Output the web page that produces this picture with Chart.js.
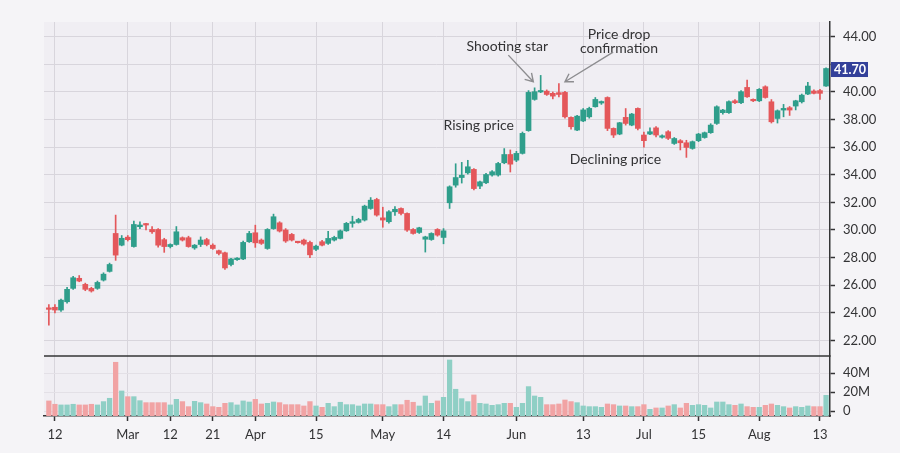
<!DOCTYPE html>
<html>
<head>
<meta charset="utf-8">
<script src="https://cdn.jsdelivr.net/npm/chart.js@4.4.1/dist/chart.umd.min.js"></script>
<style>
  html, body { margin: 0; padding: 0; background: #f5f4f7; }
  #wrap { width: 900px; height: 453px; }
</style>
</head>
<body>
<div id="wrap"><canvas id="chart" width="900" height="453"></canvas></div>
<script>
// daily candles, one per trading day (index 0 .. 128)
const opens = [
	24.35, 24.4, 24.2, 24.8, 25.77, 26.5, 26.06, 25.77, 25.77, 26.37,
	27.0, 29.75, 28.9, 29.48, 28.8, 30.24, 30.43, 30.04, 30.04, 29.3,
	28.8, 28.95, 29.44, 29.44, 28.7, 28.95, 29.3, 28.9, 28.5, 28.35,
	27.5, 27.85, 27.9, 29.15, 29.8, 29.27, 28.66, 30.1, 30.52, 30.0,
	29.68, 29.12, 29.27, 29.1, 28.6, 29.15, 29.03, 29.27, 29.39, 29.94,
	30.48, 30.55, 30.72, 31.56, 32.21, 30.88, 30.6, 31.32, 31.56, 31.2,
	30.04, 29.82, 29.33, 29.31, 30.04, 29.46, 31.97, 33.25, 33.8, 34.14,
	34.39, 33.18, 33.42, 33.98, 33.98, 34.87, 35.47, 35.06, 35.55, 37.2,
	39.46, 40.0, 40.06, 39.9, 39.95, 39.97, 38.16, 37.24, 37.9, 38.2,
	38.93, 39.2, 39.6, 37.36, 36.95, 38.16, 37.6, 38.81, 36.88, 36.95,
	37.4, 36.72, 37.12, 36.27, 36.47, 36.32, 35.91, 36.47, 36.7, 37.05,
	37.72, 38.5, 38.5, 39.36, 39.22, 40.33, 39.46, 39.36, 40.38, 39.29,
	38.08, 38.69, 38.86, 38.98, 39.29, 39.85, 40.07, 40.1, 40.43
];
const highs = [
	24.6, 24.6, 25.0, 25.85, 26.65, 26.7, 26.15, 25.85, 26.3, 26.9,
	27.6, 31.08, 29.6, 29.6, 30.65, 30.6, 30.48, 30.25, 30.1, 29.4,
	29.0, 30.25, 29.5, 29.55, 28.95, 29.5, 29.4, 29.0, 28.55, 28.4,
	27.95, 28.0, 29.2, 29.9, 30.35, 29.35, 30.1, 31.15, 30.6, 30.1,
	29.75, 29.18, 29.35, 29.2, 28.9, 29.25, 29.9, 29.55, 30.0, 30.55,
	31.0, 30.85, 31.8, 32.35, 32.3, 31.65, 31.4, 31.7, 31.6, 31.25,
	30.1, 30.2, 29.55, 29.8, 30.1, 30.1, 33.2, 34.8, 34.9, 35.05,
	34.45, 33.55, 34.1, 34.3, 34.9, 35.9, 35.8, 35.7, 37.1, 40.1,
	40.3, 41.2, 40.15, 40.0, 40.6, 40.05, 38.2, 38.3, 38.8, 38.9,
	39.6, 39.35, 39.65, 37.4, 37.8, 38.8, 38.45, 38.85, 37.1, 37.4,
	37.5, 36.9, 37.2, 36.7, 36.55, 36.5, 36.45, 37.0, 37.1, 37.7,
	39.0, 38.75, 39.35, 39.45, 40.1, 40.86, 39.5, 40.25, 40.45, 39.45,
	38.7, 39.1, 38.95, 39.4, 39.85, 40.7, 40.15, 40.2, 41.75
];
const lows = [
	23.1, 24.0, 24.1, 24.7, 25.7, 26.25, 25.6, 25.5, 25.7, 26.3,
	26.95, 27.8, 28.85, 29.2, 28.75, 30.1, 30.0, 29.75, 28.75, 28.38,
	28.7, 28.9, 29.2, 28.75, 28.6, 28.8, 28.85, 28.6, 28.2, 27.15,
	27.4, 27.8, 27.85, 29.1, 28.74, 28.95, 28.6, 30.05, 29.85, 29.1,
	29.2, 29.05, 28.9, 28.0, 28.5, 28.85, 28.95, 29.2, 29.35, 29.9,
	30.2, 30.5, 30.65, 31.5, 31.0, 30.2, 30.5, 31.05, 31.1, 29.9,
	29.7, 29.75, 28.4, 29.25, 29.55, 29.0, 31.56, 33.1, 33.4, 34.05,
	32.9, 33.0, 33.35, 33.9, 33.9, 34.8, 34.2, 34.95, 35.5, 37.15,
	39.4, 39.95, 39.75, 39.5, 39.65, 38.1, 37.3, 37.2, 37.85, 38.1,
	38.9, 39.1, 37.2, 36.7, 36.9, 37.6, 37.55, 37.25, 36.0, 36.9,
	36.75, 36.65, 36.55, 36.2, 35.8, 35.26, 35.85, 36.4, 36.65, 37.0,
	37.65, 38.4, 38.45, 39.15, 39.15, 39.6, 39.3, 39.3, 39.55, 37.75,
	37.75, 38.2, 38.3, 38.7, 39.2, 39.8, 39.85, 39.46, 40.4
];
const closes = [
	24.25, 24.2, 24.92, 25.7, 26.54, 26.3, 25.7, 25.58, 26.2, 26.8,
	27.5, 28.18, 29.4, 29.3, 30.4, 30.36, 30.36, 29.87, 28.9, 28.8,
	28.95, 29.87, 29.27, 28.8, 28.9, 29.27, 28.95, 28.66, 28.3, 27.25,
	27.9, 27.92, 29.1, 29.75, 29.07, 29.03, 30.04, 30.96, 29.92, 29.2,
	29.27, 29.08, 28.98, 28.2, 28.83, 28.9, 29.39, 29.46, 29.94, 30.48,
	30.6, 30.76, 31.73, 32.16, 31.08, 30.72, 31.32, 31.5, 31.2, 29.99,
	29.75, 30.16, 29.5, 29.75, 29.63, 29.94, 33.13, 33.8, 33.97, 34.58,
	33.0, 33.49, 34.02, 34.22, 34.82, 35.47, 34.77, 35.55, 37.0, 39.97,
	40.02, 40.1, 39.82, 39.7, 39.82, 38.2, 37.48, 38.25, 38.7, 38.81,
	39.46, 39.25, 37.36, 36.88, 37.77, 37.72, 38.4, 37.36, 36.47, 37.12,
	36.88, 36.8, 36.64, 36.63, 36.32, 35.98, 36.4, 36.95, 37.05, 37.6,
	38.93, 38.69, 39.3, 39.22, 40.02, 39.65, 39.36, 40.19, 39.6, 37.84,
	38.64, 38.81, 38.69, 39.36, 39.77, 40.43, 39.9, 39.9, 41.7
];
// volume in millions
const volumes = [
	10.9, 7.4, 6.7, 6.7, 7.4, 6.7, 6.7, 7.4, 6.7, 10.2,
	13.7, 51.6, 21.4, 15.4, 15.4, 11.2, 9.1, 9.1, 9.1, 9.1,
	6.7, 12.6, 10.2, 4.9, 10.5, 9.1, 7.7, 4.9, 4.2, 8.4,
	9.1, 6.7, 10.9, 9.8, 12.6, 7.7, 8.4, 9.8, 9.1, 7.0,
	7.0, 7.0, 5.6, 10.2, 5.6, 4.2, 8.4, 4.9, 9.5, 7.0,
	7.0, 5.6, 7.7, 7.7, 7.0, 7.0, 4.9, 7.0, 7.0, 11.6,
	9.5, 5.6, 16.1, 8.4, 10.9, 14.7, 54.0, 23.2, 13.3, 10.2,
	17.2, 8.4, 7.7, 6.3, 7.0, 8.4, 8.4, 4.2, 8.4, 26.0,
	16.1, 14.7, 7.0, 7.0, 7.7, 11.9, 10.2, 9.1, 5.6, 4.9,
	4.9, 4.2, 7.7, 7.0, 5.6, 5.6, 4.9, 4.9, 7.0, 2.1,
	3.5, 3.5, 5.6, 7.0, 3.5, 8.4, 6.3, 7.0, 6.3, 3.5,
	9.8, 9.8, 7.0, 6.3, 7.7, 4.9, 4.2, 4.2, 6.3, 7.7,
	6.3, 4.9, 3.5, 4.9, 4.2, 5.6, 4.9, 4.9, 16.8
];

const xTickPos = [1, 13, 20, 27, 34, 44, 55, 65, 77, 88, 98, 107, 117, 127];
const xTickNames = ['12', 'Mar', '12', '21', 'Apr', '15', 'May', '14', 'Jun', '13', 'Jul', '15', 'Aug', '13'];
const priceTicks = [22, 24, 26, 28, 30, 32, 34, 36, 38, 40, 42, 44];
const volumeTicks = [0, 20, 40];

const UP = '#2f9e8b';
const DOWN = '#e4575a';
const UP_VOL = '#8fcfc5';
const DOWN_VOL = '#f1a3a4';
const AXIS = '#343436';
const GRID = '#d8d5dc';
const TEXT = '#333335';
const FONT = 'Lato, "Open Sans", sans-serif';

const isUp = (i) => closes[i] >= opens[i];

const bodies = opens.map((o, i) => ({ x: i, y: [o, closes[i]] }));
const wicks = lows.map((l, i) => ({ x: i, y: [l, highs[i]] }));
const vols = volumes.map((v, i) => ({ x: i, y: v }));

const chartBg = {
	id: 'chartBg',
	beforeDraw(chart) {
		const { ctx, chartArea: a } = chart;
		ctx.save();
		ctx.fillStyle = '#f0eef3';
		ctx.fillRect(a.left, a.top, a.right - a.left, a.bottom - a.top);
		ctx.restore();
	},
};

const notes = {
	id: 'notes',
	afterDraw(chart) {
		const { ctx, chartArea: a } = chart;
		const xs = chart.scales.x;
		const ys = chart.scales.y;
		const px = (i) => xs.getPixelForValue(i);
		const py = (p) => ys.getPixelForValue(p);

		// pane separator
		const sep = chart.scales.yv.top;
		ctx.save();
		ctx.strokeStyle = AXIS;
		ctx.lineWidth = 1.5;
		ctx.beginPath();
		ctx.moveTo(a.left, sep);
		ctx.lineTo(a.right, sep);
		ctx.stroke();

		// labels
		ctx.fillStyle = TEXT;
		ctx.font = '14px ' + FONT;
		ctx.textAlign = 'center';
		ctx.textBaseline = 'middle';
		ctx.fillText('Shooting star', px(75.5), py(43.29));
		ctx.fillText('Price drop', px(93.9), py(44.2));
		ctx.fillText('confirmation', px(93.9), py(43.14));
		ctx.fillText('Rising price', px(70.8), py(37.6));
		ctx.fillText('Declining price', px(93.3), py(35.14));

		// arrows
		const arrow = (i0, p0, i1, p1) => {
			const x0 = px(i0), y0 = py(p0), x1 = px(i1), y1 = py(p1);
			const ang = Math.atan2(y1 - y0, x1 - x0);
			ctx.beginPath();
			ctx.moveTo(x0, y0);
			ctx.lineTo(x1, y1);
			ctx.moveTo(x1 - 9 * Math.cos(ang - 0.55), y1 - 9 * Math.sin(ang - 0.55));
			ctx.lineTo(x1, y1);
			ctx.lineTo(x1 - 9 * Math.cos(ang + 0.55), y1 - 9 * Math.sin(ang + 0.55));
			ctx.stroke();
		};
		ctx.strokeStyle = '#8d8d90';
		ctx.lineWidth = 1.4;
		arrow(75.67, 42.67, 79.79, 40.74);
		arrow(92.93, 42.89, 85.0, 40.74);

		// last price tag
		const last = closes[closes.length - 1];
		const ty = py(last) + 1;
		ctx.fillStyle = '#33409a';
		ctx.fillRect(a.right + 1, ty - 7.5, 37, 15);
		ctx.fillStyle = '#ffffff';
		ctx.font = 'bold 12.5px ' + FONT;
		ctx.textAlign = 'left';
		ctx.fillText(last.toFixed(2), a.right + 4, ty + 0.5);
		ctx.restore();
	},
};

new Chart(document.getElementById('chart'), {
	type: 'bar',
	data: {
		datasets: [
			{
				data: bodies,
				yAxisID: 'y',
				backgroundColor: (c) => (isUp(c.dataIndex) ? UP : DOWN),
				barThickness: 5,
				minBarLength: 1.5,
				grouped: false,
				order: 1,
			},
			{
				data: wicks,
				yAxisID: 'y',
				backgroundColor: (c) => (isUp(c.dataIndex) ? UP : DOWN),
				barThickness: 1,
				grouped: false,
				order: 2,
			},
			{
				data: vols,
				yAxisID: 'yv',
				base: -4.95,
				backgroundColor: (c) => (isUp(c.dataIndex) ? UP_VOL : DOWN_VOL),
				barThickness: 4.6,
				grouped: false,
				order: 3,
			},
		],
	},
	options: {
		responsive: false,
		animation: false,
		layout: { padding: { left: 44, top: 22, right: 0, bottom: 0 } },
		plugins: {
			legend: { display: false },
			tooltip: { enabled: false },
		},
		scales: {
			x: {
				type: 'linear',
				position: 'bottom',
				offset: false,
				min: -0.8,
				max: 128.65,
				afterBuildTicks: (s) => {
					s.ticks = xTickPos.map((v) => ({ value: v }));
				},
				afterFit: (s) => {
					s.height = 37;
				},
				ticks: {
					autoSkip: false,
					maxRotation: 0,
					padding: 6,
					color: TEXT,
					font: { family: FONT, size: 13 },
					callback: (v, i) => xTickNames[i],
				},
				grid: { offset: false, color: GRID, tickColor: AXIS, tickLength: 5, tickWidth: 1.5 },
				border: { color: AXIS, width: 1.5 },
			},
			y: {
				type: 'linear',
				position: 'right',
				stack: 'panes',
				stackWeight: 334,
				min: 20.87,
				max: 45.07,
				afterBuildTicks: (s) => {
					s.ticks = priceTicks.map((v) => ({ value: v }));
				},
				afterFit: (s) => {
					s.width = 70;
				},
				ticks: {
					autoSkip: false,
					padding: 8,
					color: TEXT,
					font: { family: FONT, size: 13 },
					callback: (v) => (v === 42 ? '' : v.toFixed(2)),
				},
				grid: { color: GRID, tickColor: AXIS, tickLength: 5, tickWidth: 1.5 },
				border: { color: AXIS, width: 1.5 },
			},
			yv: {
				type: 'linear',
				position: 'right',
				stack: 'panes',
				stackWeight: 60,
				min: -4.95,
				max: 58.2,
				afterBuildTicks: (s) => {
					s.ticks = volumeTicks.map((v) => ({ value: v }));
				},
				afterFit: (s) => {
					s.width = 70;
				},
				ticks: {
					autoSkip: false,
					padding: 8,
					color: TEXT,
					font: { family: FONT, size: 13 },
					callback: (v) => (v === 0 ? '0' : v + 'M'),
				},
				grid: { color: '#e3e0e6', tickColor: AXIS, tickLength: 5, tickWidth: 1.5 },
				border: { color: AXIS, width: 1.5 },
			},
		},
	},
	plugins: [chartBg, notes],
});
</script>
</body>
</html>
